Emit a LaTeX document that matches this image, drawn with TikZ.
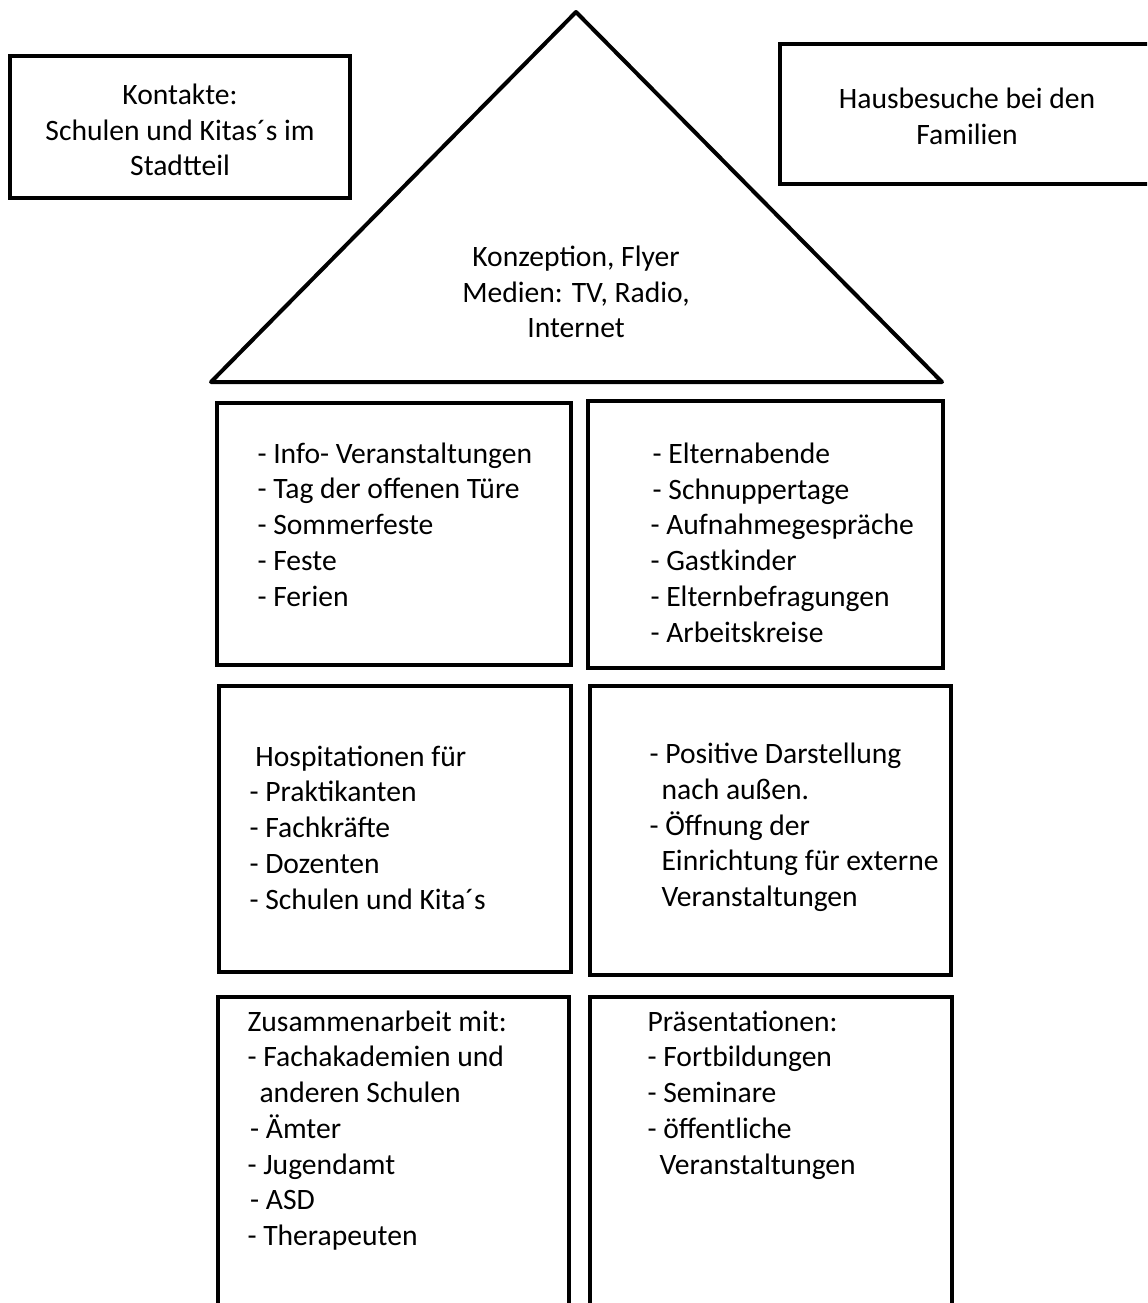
\documentclass[tikz,border=0pt]{standalone}
\usepackage{fontspec}
\setmainfont{Carlito}
\newcommand{\pxu}{0.375pt}

\begin{document}
\begin{tikzpicture}[x=0.375pt,y=-0.375pt]
\tikzset{box/.style 2 args = {draw, line width=1.5pt, inner sep=0pt,
  minimum width=#1*\pxu, minimum height=#2*\pxu}}
\tikzset{txt/.style = {align=left, anchor=west, inner sep=0pt,
  font=\fontsize{11.1pt}{13.4pt}\selectfont}}
\tikzset{ctxt/.style = {align=center, inner sep=0pt,
  font=\fontsize{11.1pt}{13.4pt}\selectfont}}
\useasboundingbox (0,0) rectangle (1147,1303);
\clip (0,0) rectangle (1147,1303);
% side boxes
\node[box={340}{142}] (kontakte) at (180,127) {};
\node[box={374}{140}] (hausbesuche) at (967,114) {};
% roof
\coordinate (top) at (576,12);
\coordinate (eaveL) at (211,382);
\coordinate (eaveR) at (942,382);
\draw[line width=1.5pt, line join=round] (top) -- (eaveL) -- (eaveR) -- cycle;
% house boxes
\node[box={354}{262}] (r1l) at (394,534) {};
\node[box={355}{267}] (r1r) at (765.5,534.5) {};
\node[box={352}{286}] (r2l) at (395,829) {};
\node[box={361}{289}] (r2r) at (770.5,830.5) {};
\node[box={351}{323}] (r3l) at (393.5,1158.5) {};
\node[box={362}{323}] (r3r) at (771,1158.5) {};
% texts
\node[ctxt] (tkontakte) at (180,130) {Kontakte:\\Schulen und Kitas´s im\\Stadtteil};
\node[ctxt] (thaus) at (967,116.5) {Hausbesuche bei den\\Familien};
\node[ctxt] (troof) at (576,292) {Konzeption, Flyer\\Medien: TV, Radio,\\Internet};
\node[txt] (t1l) at (257,524.5) {- Info- Veranstaltungen\\- Tag der offenen Türe\\- Sommerfeste\\- Feste\\- Ferien};
\node[txt] (t1r) at (650,542.5) {\hspace*{0.8pt}- Elternabende\\\hspace*{0.8pt}- Schnuppertage\\- Aufnahmegespräche\\- Gastkinder\\- Elternbefragungen\\- Arbeitskreise};
\node[txt] (t2l) at (249,827.5) {\hspace*{2.2pt}Hospitationen für\\- Praktikanten\\- Fachkräfte\\- Dozenten\\- Schulen und Kita´s};
\node[txt] (t2r) at (649,827.5) {- Positive Darstellung\\\hspace*{4.5pt}nach außen.\\- Öffnung der\\\hspace*{4.5pt}Einrichtung für externe\\\hspace*{4.5pt}Veranstaltungen};
\node[txt] (t3l) at (247,1130.5) {Zusammenarbeit mit:\\- Fachakademien und\\\hspace*{4.5pt}anderen Schulen\\\hspace*{1pt}- Ämter\\- Jugendamt\\\hspace*{1pt}- ASD\\- Therapeuten};
\node[txt] (t3r) at (647,1095) {Präsentationen:\\- Fortbildungen\\- Seminare\\- öffentliche\\\hspace*{4.5pt}Veranstaltungen};
\end{tikzpicture}
\end{document}
